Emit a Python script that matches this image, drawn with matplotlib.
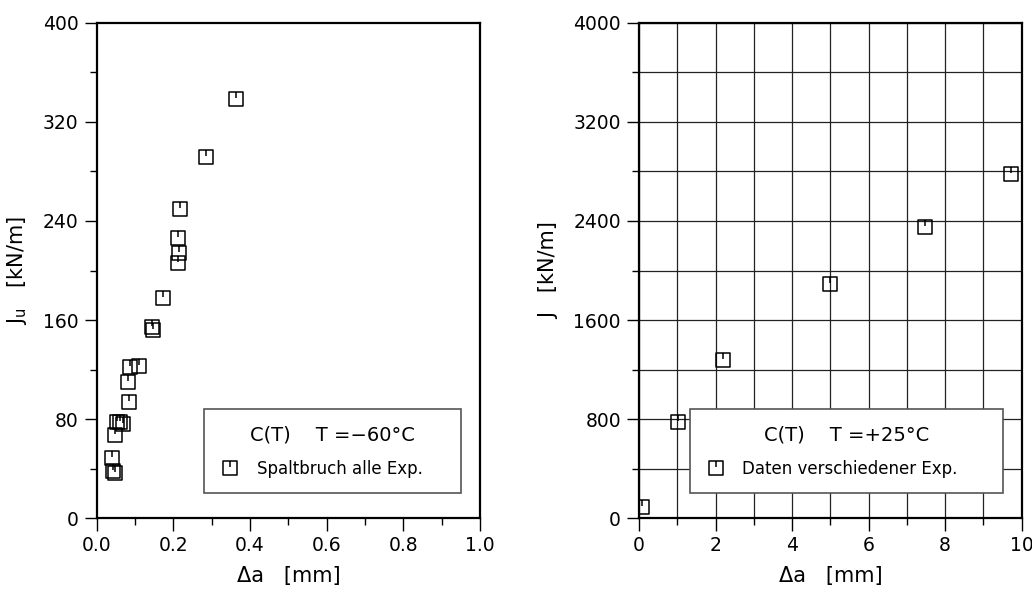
import numpy as np
import matplotlib
matplotlib.use("Agg")
import matplotlib.pyplot as plt
from matplotlib.path import Path
from matplotlib.ticker import MultipleLocator

# left panel: cleavage fracture, T = -60 C
da_cold = [0.363, 0.286, 0.217, 0.213, 0.216, 0.213, 0.172, 0.145, 0.147,
           0.087, 0.111, 0.081, 0.085, 0.054, 0.061, 0.069, 0.048, 0.039,
           0.043, 0.048]
ju_cold = [338.6, 292.0, 249.5, 226.4, 214.5, 206.0, 177.5, 154.7, 152.3,
           122.0, 123.2, 110.3, 94.2, 78.0, 78.0, 76.2, 67.3, 49.0,
           38.5, 36.3]

# right panel: T = +25 C
da_warm = [0.08, 1.02, 2.19, 5.0, 7.47, 9.73]
j_warm = [89, 778, 1278, 1892, 2355, 2780]

legend_title = ["C(T)    T =\u221260\u00b0C", "C(T)    T =+25\u00b0C"]
legend_label = ["Spaltbruch alle Exp.", "Daten verschiedener Exp."]

plt.rcParams['font.family'] = ['DejaVu Sans']

# square with a short vertical stroke from the top edge
verts = [(-1, -1), (1, -1), (1, 1), (-1, 1), (-1, -1), (0, 1), (0, 0.1)]
codes = [Path.MOVETO, Path.LINETO, Path.LINETO, Path.LINETO, Path.CLOSEPOLY,
         Path.MOVETO, Path.LINETO]
box_marker = Path(verts, codes)

fig = plt.figure(figsize=(10.32, 5.99), dpi=100)
ax1 = fig.add_axes([0.0937, 0.1347, 0.3714, 0.8274])
ax2 = fig.add_axes([0.6192, 0.1347, 0.3708, 0.8274])


def style_axes(ax):
    for s in ax.spines.values():
        s.set_linewidth(1.6)
    ax.tick_params(which='major', direction='out', length=9, width=1,
                   labelsize=13.5, pad=4)
    ax.tick_params(which='minor', direction='out', length=5, width=1)


ax1.plot(da_cold, ju_cold, linestyle='none', marker=box_marker, markersize=9.5,
         markerfacecolor='none', markeredgecolor='black', markeredgewidth=1.1,
         label=legend_label[0])
ax1.set_xlim(0, 1.0)
ax1.set_ylim(0, 400)
ax1.xaxis.set_major_locator(MultipleLocator(0.2))
ax1.xaxis.set_minor_locator(MultipleLocator(0.1))
ax1.yaxis.set_major_locator(MultipleLocator(80))
ax1.yaxis.set_minor_locator(MultipleLocator(40))
ax1.xaxis.set_major_formatter(plt.FuncFormatter(lambda v, p: "%.1f" % v))
style_axes(ax1)
ax1.set_xlabel("\u0394a   [mm]", fontsize=15, labelpad=8)
ax1.set_ylabel("J$_\\mathregular{u}$   [kN/m]", fontsize=15, labelpad=10)

ax2.plot(da_warm, j_warm, linestyle='none', marker=box_marker, markersize=9.5,
         markerfacecolor='none', markeredgecolor='black', markeredgewidth=1.1,
         label=legend_label[1], zorder=3)
ax2.set_xlim(0, 10)
ax2.set_ylim(0, 4000)
ax2.xaxis.set_major_locator(MultipleLocator(2))
ax2.xaxis.set_minor_locator(MultipleLocator(1))
ax2.yaxis.set_major_locator(MultipleLocator(800))
ax2.yaxis.set_minor_locator(MultipleLocator(400))
ax2.grid(which='both', color='#222222', linewidth=0.9)
ax2.set_axisbelow(True)
style_axes(ax2)
ax2.set_xlabel("\u0394a   [mm]", fontsize=15, labelpad=8)
ax2.set_ylabel("J   [kN/m]", fontsize=15, labelpad=10)

for ax, x0, x1, title in [(ax1, 0.280, 0.951, legend_title[0]),
                          (ax2, 0.133, 0.952, legend_title[1])]:
    leg = ax.legend(loc='lower left', bbox_to_anchor=(x0, 0.0504, x1 - x0, 0.16),
                    mode='expand', borderaxespad=0, title=title, fontsize=12,
                    title_fontsize=14, fancybox=False, framealpha=1,
                    edgecolor='#555555', borderpad=0.95, handletextpad=1.0,
                    handlelength=1.2, labelspacing=0.5)
    leg.get_frame().set_linewidth(1.2)
    leg._legend_box.sep = 11

fig.savefig("out.png", dpi=100)
